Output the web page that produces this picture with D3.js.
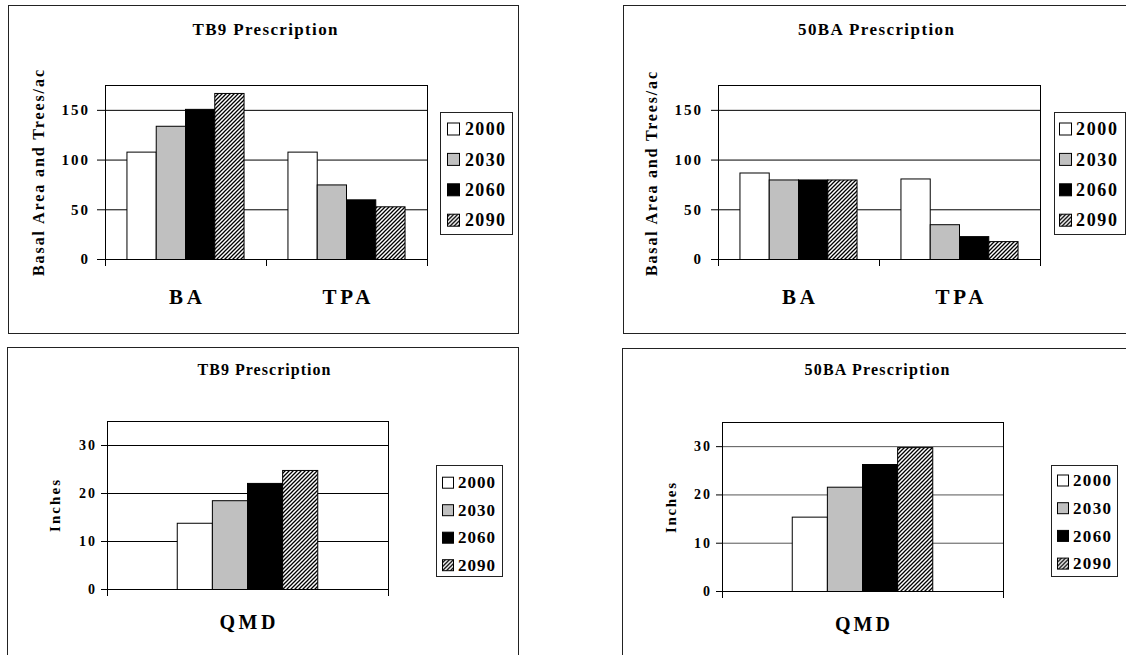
<!DOCTYPE html>
<html>
<head>
<meta charset="utf-8">
<script src="https://cdn.jsdelivr.net/npm/d3@7"></script>
<style>
  html, body { margin: 0; padding: 0; background: #fff; }
  svg { display: block; }
  text { font-family: "Liberation Serif", "Times New Roman", serif; font-weight: bold; fill: #000; }
</style>
</head>
<body>
<svg id="chart" width="1126" height="655"></svg>
<script>
// ---- data ----
const years = ["2000", "2030", "2060", "2090"];
const standMeasures = ["BA", "TPA"];
const diameterMeasures = ["QMD"];

// TB9 prescription
const tb9BA = [108, 134, 151, 167];
const tb9TPA = [108, 75, 60, 53];
const tb9QMD = [13.8, 18.5, 22.1, 24.8];

// 50BA prescription
const ba50BA = [87, 80, 80, 80];
const ba50TPA = [81, 35, 23, 18];
const ba50QMD = [15.4, 21.6, 26.3, 29.8];

const standTicks = [0, 50, 100, 150];
const qmdTicks = [0, 10, 20, 30];

// ---- styles ----
const yearFills = ["#ffffff", "#c0c0c0", "#000000", "url(#hatch)"];

const svg = d3.select("#chart");
svg.append("rect").attr("width", 1126).attr("height", 655).attr("fill", "#fff");

// forward-diagonal hatch used for the 2090 series
const defs = svg.append("defs");
const hatch = defs.append("pattern")
  .attr("id", "hatch")
  .attr("patternUnits", "userSpaceOnUse")
  .attr("width", 4).attr("height", 4);
hatch.append("rect").attr("width", 4).attr("height", 4).attr("fill", "#fff");
hatch.append("path")
  .attr("d", "M-1,1 L1,-1 M0,4 L4,0 M3,5 L5,3")
  .attr("stroke", "#000").attr("stroke-width", 1.3);

const panels = [
  {
    title: "TB9 Prescription", yLabel: "Basal Area and Trees/ac",
    measures: standMeasures, values: [tb9BA, tb9TPA], ticks: standTicks, yMax: 175, gap: 1.5,
    frame: [8, 5, 518, 333], plot: [105, 85, 427, 259], grid: "#000",
    titleXY: [265, 35], titleLen: 145, titleSize: 17,
    yLabelXY: [44, 173], yLabelLen: 206, yLabelSize: 16,
    tickLen: 8, tickPad: 9, tickSize: 15,
    catY: 304, catSize: 21, catLens: [33, 48],
    legend: { x: 440, y: 112, w: 72, h: 122, row0: 129, step: 30.4, sw: 12, swX: 447, textX: 465, textLen: 40, size: 18 }
  },
  {
    title: "50BA Prescription", yLabel: "Basal Area and Trees/ac",
    measures: standMeasures, values: [ba50BA, ba50TPA], ticks: standTicks, yMax: 175, gap: 1.5,
    frame: [623, 5, 1140, 333], plot: [718, 85, 1040, 259], grid: "#000",
    titleXY: [876, 35], titleLen: 156, titleSize: 17,
    yLabelXY: [657, 174], yLabelLen: 204, yLabelSize: 16,
    tickLen: 7, tickPad: 10, tickSize: 15,
    catY: 304, catSize: 21, catLens: [33, 48],
    legend: { x: 1054, y: 112, w: 71, h: 122, row0: 129, step: 30.4, sw: 12, swX: 1059, textX: 1076, textLen: 41, size: 18 }
  },
  {
    title: "TB9 Prescription", yLabel: "Inches",
    measures: diameterMeasures, values: [tb9QMD], ticks: qmdTicks, yMax: 35, gap: 4,
    frame: [7, 347, 518, 665], plot: [107, 421, 388, 589], grid: "#000",
    titleXY: [264, 375], titleLen: 133, titleSize: 16,
    yLabelXY: [60, 506], yLabelLen: 52, yLabelSize: 15,
    tickLen: 6, tickPad: 6, tickSize: 14,
    catY: 629, catSize: 20, catLens: [56],
    legend: { x: 436, y: 465, w: 66, h: 111, row0: 482.7, step: 27.5, sw: 11, swX: 442, textX: 458, textLen: 37, size: 17 }
  },
  {
    title: "50BA Prescription", yLabel: "Inches",
    measures: diameterMeasures, values: [ba50QMD], ticks: qmdTicks, yMax: 35, gap: 4,
    frame: [622, 348, 1140, 665], plot: [722, 422, 1003, 591], grid: "#555",
    titleXY: [877, 375], titleLen: 145, titleSize: 16,
    yLabelXY: [676, 508], yLabelLen: 50, yLabelSize: 15,
    tickLen: 6, tickPad: 6, tickSize: 14,
    catY: 631, catSize: 20, catLens: [55],
    legend: { x: 1051, y: 465, w: 66, h: 111, row0: 480.5, step: 27.7, sw: 11, swX: 1057, textX: 1073, textLen: 38, size: 17 }
  }
];

function drawPanel(p) {
  const g = svg.append("g");
  const [fx0, fy0, fx1, fy1] = p.frame;
  const [x0, y0, x1, y1] = p.plot;

  // chart area border
  g.append("rect")
    .attr("x", fx0 + 0.5).attr("y", fy0 + 0.5)
    .attr("width", fx1 - fx0).attr("height", fy1 - fy0)
    .attr("fill", "none").attr("stroke", "#222");

  const y = d3.scaleLinear().domain([0, p.yMax]).range([y1, y0]);
  const x = d3.scaleBand().domain(p.measures).range([x0, x1]);
  const bw = x.bandwidth() / (years.length + p.gap);
  const inner = d3.scaleBand().domain(years)
    .range([bw * p.gap / 2, bw * p.gap / 2 + bw * years.length]);

  // horizontal gridlines
  g.append("g")
    .attr("transform", `translate(${x0},0)`)
    .call(d3.axisLeft(y).tickValues(p.ticks).tickSize(-(x1 - x0)).tickFormat(""))
    .call(a => a.select(".domain").remove())
    .selectAll("line").attr("stroke", p.grid);

  // plot area frame
  g.append("rect")
    .attr("x", x0 + 0.5).attr("y", y0 + 0.5)
    .attr("width", x1 - x0).attr("height", y1 - y0)
    .attr("fill", "none").attr("stroke", "#000");

  // bars
  const rows = [];
  p.measures.forEach((m, mi) => {
    years.forEach((yr, yi) => rows.push({ measure: m, year: yr, yi, value: p.values[mi][yi] }));
  });
  g.append("g").selectAll("rect").data(rows).join("rect")
    .attr("x", d => x(d.measure) + inner(d.year))
    .attr("y", d => y(d.value) + 0.5)
    .attr("width", inner.bandwidth())
    .attr("height", d => y(0) - y(d.value))
    .attr("fill", d => yearFills[d.yi])
    .attr("stroke", "#000").attr("stroke-width", 1);

  // value axis ticks and labels
  const ya = g.append("g")
    .attr("transform", `translate(${x0},0)`)
    .call(d3.axisLeft(y).tickValues(p.ticks).tickSize(p.tickLen).tickPadding(p.tickPad))
    .call(a => a.select(".domain").remove());
  ya.selectAll("line").attr("stroke", "#000");
  ya.selectAll("text")
    .style("font-size", p.tickSize + "px")
    .style("letter-spacing", "2px")
    .attr("dx", 2);

  // category axis line with boundary ticks
  const xt = d3.scaleLinear().domain([0, p.measures.length]).range([x0, x1]);
  const xa = g.append("g")
    .attr("transform", `translate(0,${y1})`)
    .call(d3.axisBottom(xt).tickValues(d3.range(p.measures.length + 1))
      .tickSize(7).tickSizeOuter(0).tickFormat(""));
  xa.select(".domain").attr("stroke", "#000");
  xa.selectAll("line").attr("stroke", "#000");

  // category labels
  g.append("g").selectAll("text").data(p.measures).join("text")
    .attr("x", d => x(d) + x.bandwidth() / 2)
    .attr("y", p.catY)
    .attr("text-anchor", "middle")
    .attr("textLength", (d, i) => p.catLens[i])
    .attr("lengthAdjust", "spacing")
    .style("font-size", p.catSize + "px")
    .text(d => d);

  // title
  g.append("text")
    .attr("x", p.titleXY[0]).attr("y", p.titleXY[1])
    .attr("text-anchor", "middle")
    .attr("textLength", p.titleLen).attr("lengthAdjust", "spacing")
    .style("font-size", p.titleSize + "px")
    .text(p.title);

  // value axis title
  g.append("text")
    .attr("transform", `translate(${p.yLabelXY[0]},${p.yLabelXY[1]}) rotate(-90)`)
    .attr("text-anchor", "middle")
    .attr("textLength", p.yLabelLen).attr("lengthAdjust", "spacing")
    .style("font-size", p.yLabelSize + "px")
    .text(p.yLabel);

  // legend
  const L = p.legend;
  const lg = g.append("g");
  lg.append("rect")
    .attr("x", L.x + 0.5).attr("y", L.y + 0.5)
    .attr("width", L.w).attr("height", L.h)
    .attr("fill", "#fff").attr("stroke", "#222");
  const items = lg.selectAll("g.item").data(years).join("g").attr("class", "item")
    .attr("transform", (d, i) => `translate(0,${L.row0 + i * L.step})`);
  items.append("rect")
    .attr("x", L.swX + 0.5).attr("y", -L.sw / 2)
    .attr("width", L.sw).attr("height", L.sw)
    .attr("fill", (d, i) => yearFills[i])
    .attr("stroke", "#000");
  items.append("text")
    .attr("x", L.textX).attr("y", L.size * 0.34)
    .attr("textLength", L.textLen).attr("lengthAdjust", "spacing")
    .style("font-size", L.size + "px")
    .text(d => d);
}

panels.forEach(drawPanel);
</script>
</body>
</html>
